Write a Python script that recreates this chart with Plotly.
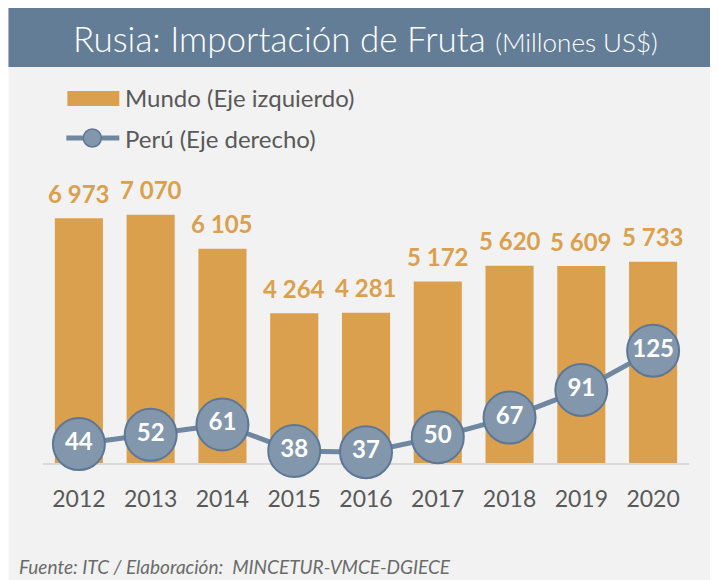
import plotly.graph_objects as go

# ---- data ----
years = ["2012", "2013", "2014", "2015", "2016", "2017", "2018", "2019", "2020"]
mundo = [6973, 7070, 6105, 4264, 4281, 5172, 5620, 5609, 5733]
peru = [44, 52, 61, 38, 37, 50, 67, 91, 125]

# ---- layout geometry (screen pixels; page body adds an 8px offset) ----
OFF = 8
W, H = 718 - OFF, 580 - OFF
PLOT_L_S, PLOT_R_S, PLOT_T_S, PLOT_B_S = 42.6, 689.4, 180, 463
ML = PLOT_L_S - OFF
MR = W - (PLOT_R_S - OFF)
MT = PLOT_T_S - OFF
MB = H - (PLOT_B_S - OFF)
PW, PH = W - ML - MR, H - MT - MB


def px(x):
    return (x - OFF - ML) / PW


def py(y):
    return (PLOT_B_S - y) / PH


ORANGE = "#DBA04D"
SLATE_FILL = "#8397AC"
SLATE_EDGE = "#5E7795"
SLATE_LINE = "#6F87A0"
GREY_TXT = "#595959"
FONT = "Lato"

idx = list(range(len(years)))

fig = go.Figure()

fig.add_trace(go.Bar(
    x=idx, y=mundo, marker=dict(color=ORANGE, line=dict(width=0)),
    width=0.67, name="Mundo (Eje izquierdo)", hoverinfo="y",
))

fig.add_trace(go.Scatter(
    x=idx, y=peru, yaxis="y2", mode="lines+markers+text",
    line=dict(color=SLATE_LINE, width=5),
    marker=dict(size=52, color=SLATE_FILL, line=dict(color=SLATE_EDGE, width=2)),
    text=[str(v) for v in peru], textposition="middle center",
    textfont=dict(family=FONT, size=24, color="white", weight="bold"),
    cliponaxis=False, name="Perú (Eje derecho)",
))

annotations = []
for i, v in zip(idx, mundo):
    annotations.append(dict(
        x=i, y=v, xref="x", yref="y", text=f"{v:,}".replace(",", " "),
        showarrow=False, yanchor="middle", yshift=25,
        font=dict(family=FONT, size=24, color=ORANGE, weight="bold"),
    ))

# title
annotations.append(dict(
    x=px(365), y=py(38), xref="paper", yref="paper", xanchor="center", yanchor="middle",
    text="Rusia: Importación de Fruta <span style='font-size:26px'>(Millones US$)</span>",
    showarrow=False, font=dict(family=FONT, size=35, color="white", weight=300),
))
# legend texts
annotations.append(dict(
    x=px(123), y=py(98), xref="paper", yref="paper", xanchor="left", yanchor="middle",
    text="Mundo (Eje izquierdo)", showarrow=False,
    font=dict(family=FONT, size=24, color=GREY_TXT),
))
annotations.append(dict(
    x=px(123), y=py(138), xref="paper", yref="paper", xanchor="left", yanchor="middle",
    text="Perú (Eje derecho)", showarrow=False,
    font=dict(family=FONT, size=24, color=GREY_TXT),
))
# footer
annotations.append(dict(
    x=px(17), y=py(566), xref="paper", yref="paper", xanchor="left", yanchor="middle",
    text="<i>Fuente: ITC / Elaboración:  MINCETUR-VMCE-DGIECE</i>", showarrow=False,
    font=dict(family=FONT, size=19, color="#6b6b6b"),
))

shapes = [
    # grey panel
    dict(type="rect", xref="paper", yref="paper", x0=px(8), x1=px(718), y0=py(580), y1=py(67),
         fillcolor="#F2F2F2", line=dict(width=0), layer="below"),
    # title bar
    dict(type="rect", xref="paper", yref="paper", x0=px(8), x1=px(718), y0=py(67), y1=py(8),
         fillcolor="#647D96", line=dict(width=0), layer="below"),
    # legend: bar swatch
    dict(type="rect", xref="paper", yref="paper", x0=px(67), x1=px(119), y0=py(106), y1=py(91),
         fillcolor=ORANGE, line=dict(width=0)),
    # legend: line swatch
    dict(type="line", xref="paper", yref="paper", x0=px(66), x1=px(119), y0=py(138), y1=py(138),
         line=dict(color=SLATE_LINE, width=5)),
    dict(type="circle", xref="paper", yref="paper", x0=px(83), x1=px(101), y0=py(147), y1=py(129),
         fillcolor=SLATE_FILL, line=dict(color=SLATE_EDGE, width=1.5)),
]

fig.update_layout(
    width=W, height=H,
    margin=dict(l=ML, r=MR, t=MT, b=MB, pad=0, autoexpand=False),
    paper_bgcolor="white", plot_bgcolor="rgba(0,0,0,0)",
    showlegend=False,
    xaxis=dict(
        range=[-0.5, len(years) - 0.5], tickmode="array", tickvals=idx, ticktext=years,
        showgrid=False, zeroline=False,
        showline=True, linecolor="#D9D9D9", linewidth=2, layer="below traces",
        ticks="", ticklabelstandoff=14,
        tickfont=dict(family=FONT, size=23, color=GREY_TXT),
    ),
    yaxis=dict(range=[0, PH / 0.0351], visible=False, showgrid=False, zeroline=False),
    yaxis2=dict(
        overlaying="y", side="right", visible=False, showgrid=False, zeroline=False,
        range=[(494.8 - PLOT_B_S) / 1.153, (494.8 - PLOT_T_S) / 1.153],
    ),
    annotations=annotations, shapes=shapes,
)

fig.write_html("out.html")
